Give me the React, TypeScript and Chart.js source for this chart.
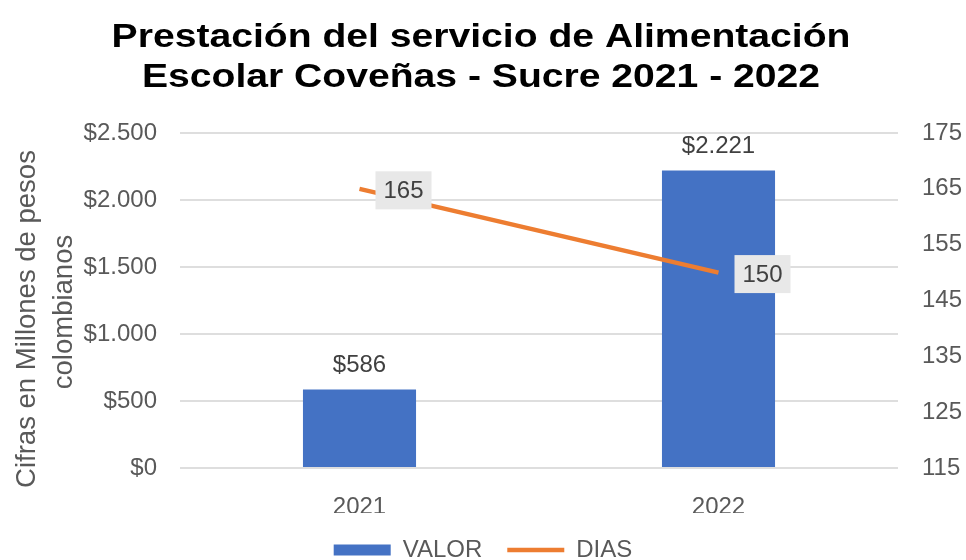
import React, { useEffect, useRef } from 'react';
import { Chart, registerables } from 'chart.js';

Chart.register(...registerables);

const CATEGORIES = ['2021', '2022'];
const VALOR = [586, 2221];
const DIAS = [165, 150];
const SERIES_NAMES = ['VALOR', 'DIAS'];
const TITLE_LINES = ['Prestación del servicio de Alimentación', 'Escolar Coveñas - Sucre 2021 - 2022'];
const Y_TITLE_LINES = ['Cifras en Millones de pesos', 'colombianos'];
const LEFT_MIN = 0;
const LEFT_MAX = 2500;
const LEFT_STEP = 500;
const RIGHT_MIN = 115;
const RIGHT_MAX = 175;
const RIGHT_STEP = 10;

const FONT = '"Liberation Sans", Arial, Helvetica, sans-serif';
const BLUE = '#4472C4';
const ORANGE = '#ED7D31';
const TICK_COLOR = '#595959';
const LABEL_COLOR = '#404040';

function fmtMoney(v: number): string {
  return '$' + String(Math.round(v)).replace(/\B(?=(\d{3})+(?!\d))/g, '.');
}

const overlayPlugin = {
  id: 'overlay',
  afterDatasetsDraw(chart: any) {
    const ctx = chart.ctx as CanvasRenderingContext2D;
    ctx.save();
    ctx.font = `24px ${FONT}`;
    ctx.textAlign = 'center';
    ctx.textBaseline = 'alphabetic';
    ctx.fillStyle = LABEL_COLOR;
    const barMeta = chart.getDatasetMeta(0);
    barMeta.data.forEach((el: any, i: number) => {
      ctx.fillText(fmtMoney(VALOR[i]), el.x, el.y - 17);
    });
    const lineMeta = chart.getDatasetMeta(1);
    ctx.textBaseline = 'middle';
    lineMeta.data.forEach((pt: any, i: number) => {
      const cx = pt.x + 44;
      const cy = pt.y + 1.5;
      ctx.fillStyle = '#e8e8e8';
      ctx.fillRect(cx - 28, cy - 19, 56, 38);
      ctx.fillStyle = LABEL_COLOR;
      ctx.fillText(String(DIAS[i]), cx, cy + 1);
    });
    ctx.restore();
  },
  afterDraw(chart: any) {
    const ctx = chart.ctx as CanvasRenderingContext2D;
    ctx.save();
    ctx.fillStyle = '#000000';
    ctx.font = `bold 34px ${FONT}`;
    ctx.textAlign = 'center';
    ctx.textBaseline = 'alphabetic';
    const baselines = [47, 87];
    TITLE_LINES.forEach((line, i) => {
      ctx.save();
      ctx.translate(481, baselines[i]);
      ctx.scale(1.15, 1);
      ctx.fillText(line, 0, 0);
      ctx.restore();
    });
    ctx.fillStyle = TICK_COLOR;
    ctx.font = `27.5px ${FONT}`;
    const xs = [35, 72];
    const ys = [319, 312];
    Y_TITLE_LINES.forEach((line, i) => {
      ctx.save();
      ctx.translate(xs[i], ys[i]);
      ctx.rotate(-Math.PI / 2);
      ctx.fillText(line, 0, 0);
      ctx.restore();
    });
    ctx.restore();
  },
};

export default function App() {
  const ref = useRef<HTMLCanvasElement | null>(null);

  useEffect(() => {
    document.body.style.margin = '0';
    const canvas = ref.current;
    if (!canvas) return;
    const chart = new Chart(canvas, {
      type: 'bar',
      data: {
        labels: CATEGORIES,
        datasets: [
          {
            type: 'bar',
            label: SERIES_NAMES[0],
            data: VALOR,
            backgroundColor: BLUE,
            borderWidth: 0,
            yAxisID: 'y',
            order: 1,
            categoryPercentage: 1,
            barPercentage: 0.315,
            pointStyle: 'rect',
          } as any,
          {
            type: 'line',
            label: SERIES_NAMES[1],
            data: DIAS,
            borderColor: ORANGE,
            backgroundColor: ORANGE,
            borderWidth: 4.5,
            pointRadius: 0,
            tension: 0,
            yAxisID: 'y1',
            order: 0,
            pointStyle: 'line',
          } as any,
        ],
      },
      options: {
        responsive: false,
        animation: false,
        layout: { padding: { top: 133, bottom: 8, left: 0, right: 0 } },
        plugins: {
          title: { display: false },
          tooltip: { enabled: false },
          legend: {
            display: true,
            position: 'bottom',
            labels: {
              usePointStyle: true,
              pointStyleWidth: 57,
              boxHeight: 11,
              padding: 25,
              color: TICK_COLOR,
              font: { family: FONT, size: 24 },
              sort: (a: any, b: any) => a.datasetIndex - b.datasetIndex,
            },
          },
        },
        scales: {
          x: {
            grid: { display: false },
            border: { display: false },
            ticks: {
              color: TICK_COLOR,
              padding: 17,
              font: { family: FONT, size: 24 },
            },
            afterFit: (s: any) => { s.height = 45; },
          },
          y: {
            position: 'left',
            min: LEFT_MIN,
            max: LEFT_MAX,
            grid: { color: '#dedede', lineWidth: 2, drawTicks: false },
            border: { display: false },
            ticks: {
              stepSize: LEFT_STEP,
              color: TICK_COLOR,
              padding: 23,
              font: { family: FONT, size: 24 },
              callback: (v: any) => fmtMoney(Number(v)),
            },
            afterFit: (s: any) => { s.width = 180; },
          },
          y1: {
            position: 'right',
            min: RIGHT_MIN,
            max: RIGHT_MAX,
            grid: { display: false, drawTicks: false },
            border: { display: false },
            ticks: {
              stepSize: RIGHT_STEP,
              color: TICK_COLOR,
              padding: 24,
              font: { family: FONT, size: 24 },
            },
            afterFit: (s: any) => { s.width = 68; },
          },
        },
      },
      plugins: [overlayPlugin],
    } as any);
    return () => chart.destroy();
  }, []);

  return (
    <div style={{ width: 966, height: 560, overflow: 'hidden', position: 'relative', background: '#ffffff' }}>
      <canvas ref={ref} width={966} height={580} style={{ display: 'block', width: 966, height: 580 }} />
    </div>
  );
}
